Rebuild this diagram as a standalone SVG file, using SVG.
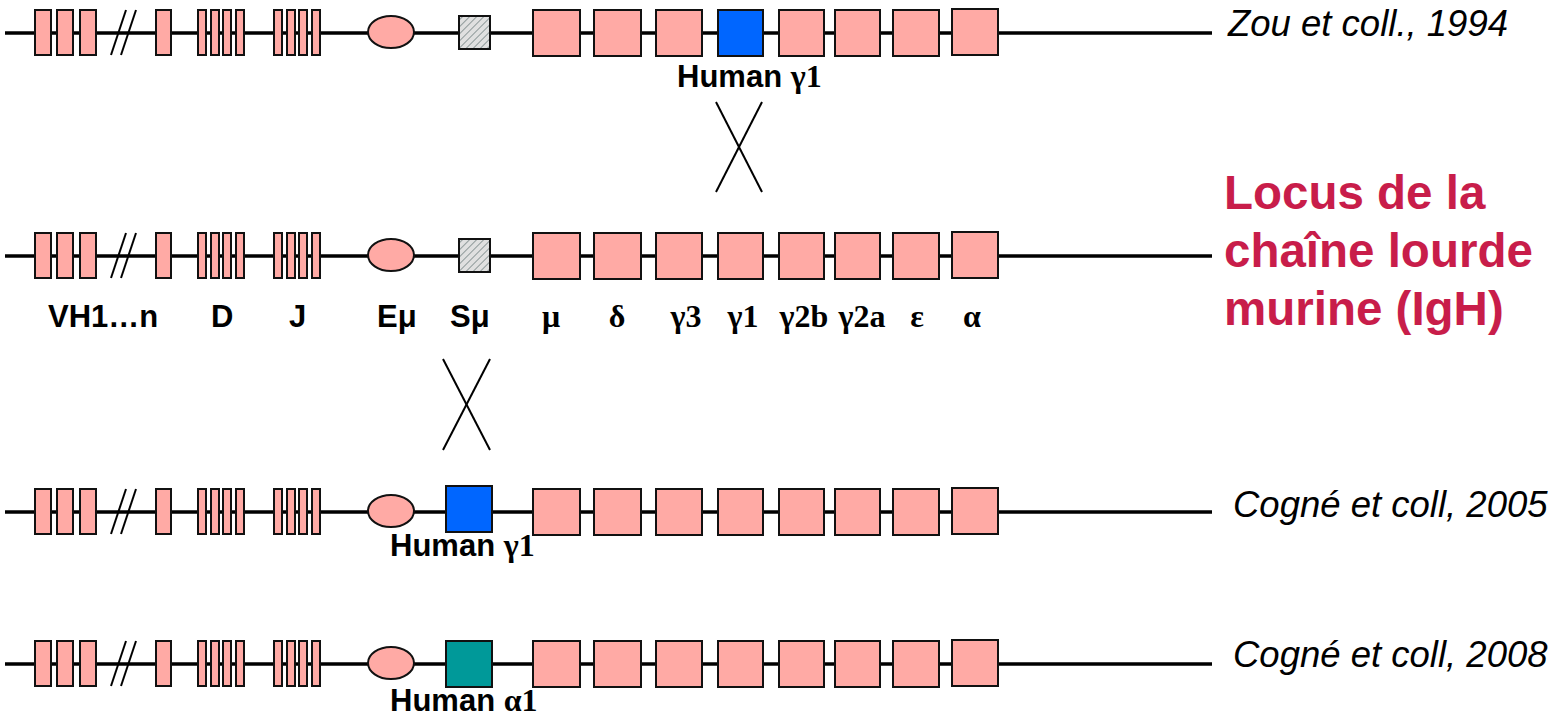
<svg xmlns="http://www.w3.org/2000/svg" width="1551" height="724" viewBox="0 0 1551 724">
<defs>
<pattern id="hatch" patternUnits="userSpaceOnUse" width="5" height="5" patternTransform="rotate(45)">
<rect width="5" height="5" fill="#e0e0e0"/>
<line x1="0" y1="0" x2="0" y2="5" stroke="#8f9a9a" stroke-width="2"/>
</pattern>
<g id="locus">
<line class="axis" x1="5" y1="0" x2="1212" y2="0"/>
<rect class="seg" x="35" y="-23" width="16" height="45"/>
<rect class="seg" x="57" y="-23" width="16" height="45"/>
<rect class="seg" x="80" y="-23" width="16" height="45"/>
<line class="slash" x1="111" y1="22" x2="126" y2="-23"/>
<line class="slash" x1="121" y1="22" x2="136" y2="-23"/>
<rect class="seg" x="156" y="-23" width="15" height="45"/>
<rect class="seg" x="198" y="-23" width="8" height="45"/>
<rect class="seg" x="211" y="-23" width="8" height="45"/>
<rect class="seg" x="223" y="-23" width="8" height="45"/>
<rect class="seg" x="236" y="-23" width="8" height="45"/>
<rect class="seg" x="274" y="-23" width="8" height="45"/>
<rect class="seg" x="287" y="-23" width="8" height="45"/>
<rect class="seg" x="299" y="-23" width="8" height="45"/>
<rect class="seg" x="312" y="-23" width="8" height="45"/>
<ellipse class="seg" cx="391" cy="-1" rx="23" ry="16"/>
<rect class="seg" x="533" y="-23" width="47" height="46"/>
<rect class="seg" x="594" y="-23" width="47" height="46"/>
<rect class="seg" x="656" y="-23" width="46" height="46"/>
<rect class="seg" x="718" y="-23" width="45" height="46"/>
<rect class="seg" x="779" y="-23" width="45" height="46"/>
<rect class="seg" x="835" y="-23" width="45" height="46"/>
<rect class="seg" x="893" y="-23" width="46" height="46"/>
<rect class="seg" x="952" y="-24" width="46" height="46"/>
</g>
</defs>
<style>
.axis{stroke:#000;stroke-width:3.5}
.seg{fill:#FFAAA5;stroke:#111;stroke-width:2}
.slash{stroke:#000;stroke-width:2}
.hat{fill:url(#hatch);stroke:#111;stroke-width:2}
.blue{fill:#0066FF;stroke:#111;stroke-width:2}
.teal{fill:#009999;stroke:#111;stroke-width:2}
.cross{stroke:#000;stroke-width:2;fill:none}
.lab{font-family:"Liberation Sans",Arial,sans-serif;font-weight:bold;font-size:31px;fill:#000}
.gk{font-family:"Liberation Serif","Times New Roman",serif;font-weight:bold;font-size:32px;fill:#000}
.ref{font-family:"Liberation Sans",Arial,sans-serif;font-style:italic;font-size:36.5px;fill:#000}
.title{font-family:"Liberation Sans",Arial,sans-serif;font-weight:bold;font-size:47.5px;fill:#C81D4A}
</style>
<g id="row1-zou" transform="translate(0,33)">
<use href="#locus"/>
<rect class="hat" x="459" y="-17" width="31" height="33"/>
<rect class="blue" x="718" y="-23" width="45" height="46"/>
</g>
<g id="row2-murine" transform="translate(0,256)">
<use href="#locus"/>
<rect class="hat" x="459" y="-17" width="31" height="33"/>
</g>
<g id="row3-cogne2005" transform="translate(0,512)">
<use href="#locus"/>
<rect class="blue" x="446" y="-26" width="46" height="46"/>
</g>
<g id="row4-cogne2008" transform="translate(0,664)">
<use href="#locus"/>
<rect class="teal" x="446" y="-23" width="46" height="46"/>
</g>
<g id="connectors">
<line class="cross" x1="716" y1="102" x2="762" y2="192"/>
<line class="cross" x1="762" y1="102" x2="716" y2="192"/>
<line class="cross" x1="443" y1="359" x2="490" y2="450"/>
<line class="cross" x1="490" y1="359" x2="443" y2="450"/>
</g>
<g id="labels-human">
<text class="lab" x="677" y="87">Human <tspan class="gk">γ1</tspan></text>
<text class="lab" x="390" y="556">Human <tspan class="gk">γ1</tspan></text>
<text class="lab" x="390" y="711">Human <tspan class="gk">α1</tspan></text>
</g>
<g id="labels-segments">
<text class="lab" x="48" y="327">VH1…n</text>
<text class="lab" x="211" y="327">D</text>
<text class="lab" x="289" y="327">J</text>
<text class="lab" x="377" y="327">Eμ</text>
<text class="lab" x="450" y="327">Sμ</text>
<g class="gk" text-anchor="middle">
<text x="551" y="327">μ</text>
<text x="617" y="327">δ</text>
<text x="686" y="327">γ3</text>
<text x="743" y="327">γ1</text>
<text x="804" y="327">γ2b</text>
<text x="862" y="327">γ2a</text>
<text x="917" y="327">ε</text>
<text x="972" y="327">α</text>
</g>
</g>
<g id="labels-refs">
<text class="ref" x="1228" y="36">Zou et coll., 1994</text>
<text class="ref" x="1233" y="517">Cogné et coll, 2005</text>
<text class="ref" x="1233" y="667">Cogné et coll, 2008</text>
</g>
<g id="title">
<text class="title" x="1224" y="209">Locus de la</text>
<text class="title" x="1224" y="267">chaîne lourde</text>
<text class="title" x="1224" y="325">murine (IgH)</text>
</g>
</svg>
